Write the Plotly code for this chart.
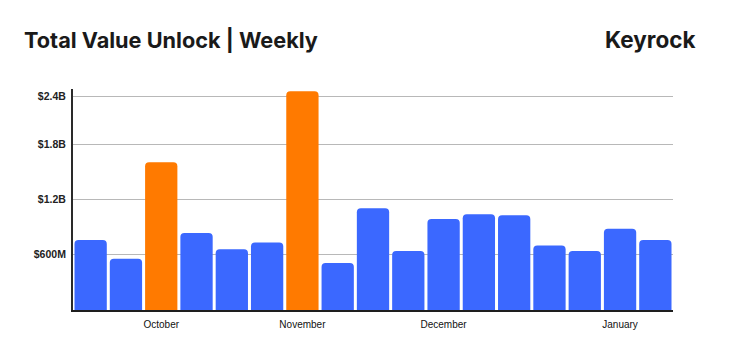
import plotly.graph_objects as go

# Data (values in millions USD), weekly
weeks = list(range(17))
values = [759, 557, 1605, 835, 661, 734, 2375, 510, 1106, 640, 987, 1041, 1030, 701, 640, 882, 759]
highlight = [False, False, True, False, False, False, True, False, False, False, False, False, False, False, False, False, False]
month_ticks = [2, 6, 10, 15]
month_labels = ["October", "November", "December", "January"]
y_tickvals = [600, 1200, 1800, 2322]
y_ticktext = ["$600M", "$1.2B", "$1.8B", "$2.4B"]

BLUE = "#3B68FF"
ORANGE = "#FF7A00"
colors = [ORANGE if h else BLUE for h in highlight]

fig = go.Figure(go.Bar(
    x=weeks, y=values,
    marker=dict(color=colors, line=dict(width=0)),
    hoverinfo="skip",
))

fig.update_layout(
    width=733, height=363,
    margin=dict(l=73, r=60, t=89, b=53),
    paper_bgcolor="white", plot_bgcolor="white",
    bargap=0.085,
    barcornerradius=4,
    showlegend=False,
    xaxis=dict(
        range=[-0.5, 16.5],
        tickmode="array", tickvals=month_ticks, ticktext=month_labels,
        showgrid=False, zeroline=False,
        showline=True, linecolor="#1e1e1e", linewidth=2,
        ticks="", ticklabelstandoff=4,
        tickfont=dict(family="Liberation Sans", size=10, color="#111", weight=500),
        fixedrange=True,
    ),
    yaxis=dict(
        range=[0, 2400],
        tickmode="array", tickvals=y_tickvals, ticktext=y_ticktext,
        showgrid=True, gridcolor="#b8b8b8", gridwidth=1,
        zeroline=False,
        showline=True, linecolor="#2a2a2a", linewidth=2,
        ticks="", ticklabelstandoff=3,
        tickfont=dict(family="Liberation Sans", size=10.5, color="#222", weight="bold"),
        fixedrange=True,
    ),
    annotations=[
        dict(text="Total Value Unlock | Weekly", xref="paper", yref="paper",
             x=(21.5 - 73) / 600, y=(310 - 40) / 221, xanchor="left", yanchor="middle",
             showarrow=False, font=dict(family="Inter", size=21.7, color="#1a1a1a", weight=700)),
        dict(text="Keyrock", xref="paper", yref="paper",
             x=(698 - 73) / 600, y=(310 - 40) / 221, xanchor="right", yanchor="middle",
             showarrow=False, font=dict(family="Inter", size=22.5, color="#1a1a1a", weight=700)),
    ],
)

fig.write_html("out.html")
